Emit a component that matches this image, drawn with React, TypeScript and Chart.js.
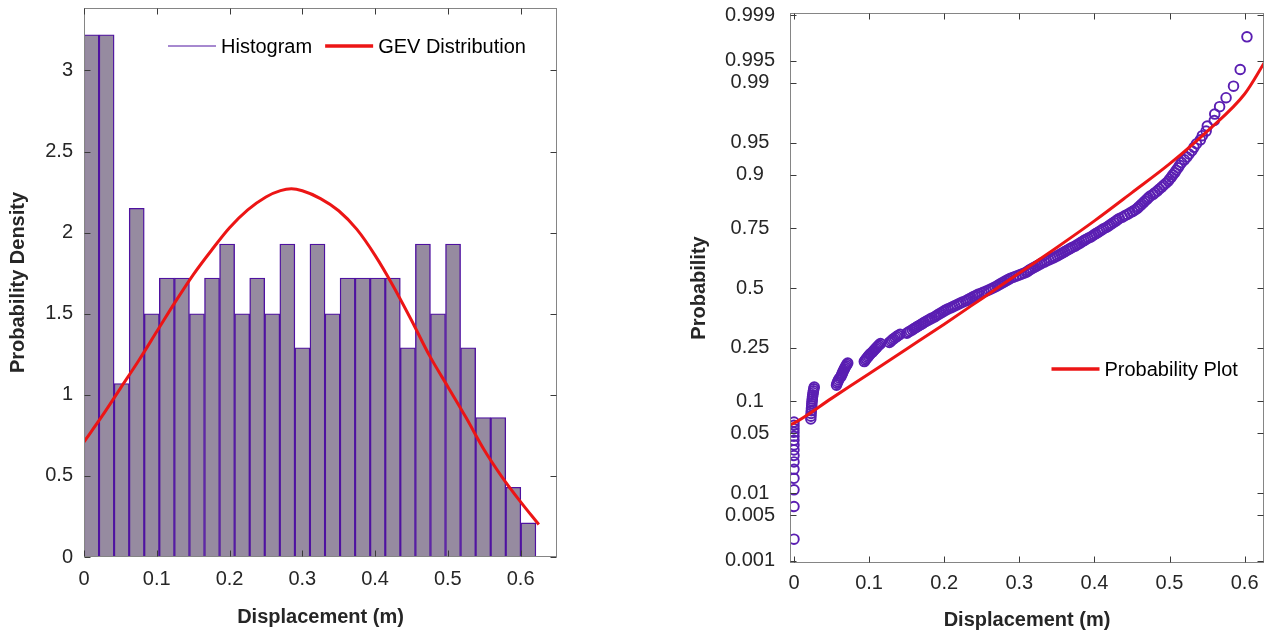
import React, { useEffect, useRef } from "react";
import { Chart, registerables } from "chart.js";

Chart.register(...registerables);

const FONT = '"Liberation Sans", Arial, Helvetica, sans-serif';
Chart.defaults.font.family = FONT;

// ---------- Left panel data (histogram + GEV pdf) ----------
const histBinStart = 0;
const histBinWidth = 0.0207;
const histDensity = [
  3.22, 3.22, 1.07, 2.15, 1.5, 1.72, 1.72, 1.5, 1.72, 1.93,
  1.5, 1.72, 1.5, 1.93, 1.29, 1.93, 1.5, 1.72, 1.72, 1.72,
  1.72, 1.29, 1.93, 1.5, 1.93, 1.29, 0.86, 0.86, 0.43, 0.21,
];
const gevX = [
  0, 0.025, 0.05, 0.075, 0.1, 0.125, 0.15, 0.175, 0.2, 0.225, 0.25, 0.27, 0.285, 0.3,
  0.325, 0.35, 0.375, 0.4, 0.425, 0.45, 0.475, 0.5, 0.525, 0.55, 0.575, 0.6, 0.625,
];
const gevPdf = [
  0.71, 0.87, 1.04, 1.21, 1.39, 1.57, 1.74, 1.89, 2.03, 2.14, 2.22, 2.259, 2.27, 2.258,
  2.21, 2.135, 2.02, 1.86, 1.67, 1.46, 1.24, 1.05, 0.86, 0.66, 0.49, 0.34, 0.2,
];
const leftXTicks = [0, 0.1, 0.2, 0.3, 0.4, 0.5, 0.6];
const leftYTicks = [0, 0.5, 1, 1.5, 2, 2.5, 3];

// ---------- Right panel data (probability plot) ----------
const displacementSorted = [
  0, 0, 0, 0, 0, 0, 0, 0, 0, 0, 0, 0, 0, 0, 0,
  0.0224, 0.0226, 0.0228, 0.0231, 0.0233, 0.0236, 0.0238, 0.0241, 0.0244, 0.0247, 0.0251, 0.0255, 0.0259, 0.0264, 0.027,
  0.0566, 0.0574, 0.0583, 0.0594, 0.0607,
  0.0625, 0.0634, 0.0643, 0.0652, 0.0662, 0.0671, 0.0682, 0.0693, 0.0704, 0.0716,
  0.0936, 0.0949, 0.0962, 0.0977, 0.0991, 0.1006, 0.1021,
  0.1043, 0.1057, 0.1072, 0.1088, 0.1103, 0.1119, 0.1134, 0.1152,
  0.1271, 0.129, 0.1306, 0.1326, 0.1347, 0.1367, 0.1388, 0.1413,
  0.1503, 0.1524, 0.155, 0.1575, 0.1597, 0.162, 0.1642,
  0.1668, 0.1692, 0.1714, 0.1737, 0.1761, 0.1787, 0.1812, 0.1838,
  0.1872, 0.189, 0.1911, 0.1934, 0.1957, 0.198, 0.2002, 0.2026, 0.2053,
  0.2086, 0.2113, 0.214, 0.2169, 0.2196, 0.2223, 0.2252,
  0.229, 0.2312, 0.2337, 0.2363, 0.2386, 0.2412, 0.2437, 0.2461,
  0.2502, 0.2531, 0.2562, 0.2593, 0.2621, 0.2649, 0.2676,
  0.2703, 0.2722, 0.2744, 0.2767, 0.2792, 0.2814, 0.2839, 0.2862, 0.2885,
  0.2922, 0.2957, 0.2993, 0.3026, 0.3062, 0.3094,
  0.3114, 0.3132, 0.3153, 0.3177, 0.3202, 0.3227, 0.325, 0.3276, 0.3299,
  0.3332, 0.3361, 0.3392, 0.3421, 0.3452, 0.3477, 0.3506,
  0.3533, 0.3557, 0.3582, 0.3606, 0.3632, 0.3657, 0.3681, 0.3709,
  0.3742, 0.3764, 0.379, 0.3813, 0.3837, 0.3862, 0.3886, 0.3915,
  0.3947, 0.3972, 0.3996, 0.402, 0.4047, 0.407, 0.4098, 0.4121,
  0.4157, 0.4183, 0.4206, 0.4232, 0.4255, 0.4283, 0.4305, 0.4332,
  0.4372, 0.4404, 0.4439, 0.4471, 0.4506, 0.4536,
  0.4567, 0.4587, 0.461, 0.463, 0.4653, 0.4673, 0.4698, 0.4717, 0.4743,
  0.4782, 0.4808, 0.4839, 0.4865, 0.4896, 0.4921, 0.4952,
  0.4982, 0.5001, 0.5025, 0.5045, 0.507, 0.509, 0.5114, 0.5135, 0.5159,
  0.5198, 0.5232, 0.5261, 0.5297, 0.5326, 0.5359,
  0.5411, 0.5437, 0.5488, 0.5503,
  0.5596, 0.5602, 0.5667, 0.5753,
  0.5852, 0.5941,
  0.6031,
];
const fitX = [-0.005, 0, 0.05, 0.1, 0.15, 0.2, 0.25, 0.3, 0.35, 0.4, 0.45, 0.5, 0.55, 0.6, 0.627];
const fitProb = [0.061, 0.063, 0.1056, 0.166, 0.245, 0.341, 0.452, 0.5675, 0.677, 0.7764, 0.86, 0.92, 0.962, 0.986, 0.9948];
const rightXTicks = [0, 0.1, 0.2, 0.3, 0.4, 0.5, 0.6];
const probTicks = [0.001, 0.005, 0.01, 0.05, 0.1, 0.25, 0.5, 0.75, 0.9, 0.95, 0.99, 0.995, 0.999];
const probTickLabels = ["0.001", "0.005", "0.01", "0.05", "0.1", "0.25", "0.5", "0.75", "0.9", "0.95", "0.99", "0.995", "0.999"];

// inverse standard normal CDF (normal probability paper)
function probit(p: number): number {
  const a = [-39.69683028665376, 220.9460984245205, -275.9285104469687, 138.357751867269, -30.66479806614716, 2.506628277459239];
  const b = [-54.47609879822406, 161.5858368580409, -155.6989798598866, 66.80131188771972, -13.28068155288572];
  const c = [-0.007784894002430293, -0.3223964580411365, -2.400758277161838, -2.549732539343734, 4.374664141464968, 2.938163982698783];
  const d = [0.007784695709041462, 0.3224671290700398, 2.445134137142996, 3.754408661907416];
  const pl = 0.02425;
  if (p < pl) {
    const q = Math.sqrt(-2 * Math.log(p));
    return (((((c[0] * q + c[1]) * q + c[2]) * q + c[3]) * q + c[4]) * q + c[5]) / ((((d[0] * q + d[1]) * q + d[2]) * q + d[3]) * q + 1);
  }
  if (p <= 1 - pl) {
    const q = p - 0.5;
    const r = q * q;
    return ((((((a[0] * r + a[1]) * r + a[2]) * r + a[3]) * r + a[4]) * r + a[5]) * q) / (((((b[0] * r + b[1]) * r + b[2]) * r + b[3]) * r + b[4]) * r + 1);
  }
  const q = Math.sqrt(-2 * Math.log(1 - p));
  return -(((((c[0] * q + c[1]) * q + c[2]) * q + c[3]) * q + c[4]) * q + c[5]) / ((((d[0] * q + d[1]) * q + d[2]) * q + d[3]) * q + 1);
}

const TEXT = "#262626";
const RED = "#ec1515";
const BAR_EDGE = "#4f12a0";
const BAR_FILL = "#968ba0";
const MARKER = "#5a1eb2";

const fmt = (v: number) => String(Math.round(v * 1000) / 1000);

const framePlugin = {
  id: "frame",
  afterDatasetsDraw(chart: any) {
    const { ctx, chartArea } = chart;
    const { left, right, top, bottom } = chartArea;
    const L = Math.round(left) + 0.5;
    const R = Math.round(right) - 0.5;
    const T = Math.round(top) + 0.5;
    const B = Math.round(bottom) - 0.5;
    ctx.save();
    ctx.lineWidth = 1;
    ctx.strokeStyle = "#858585";
    ctx.strokeRect(L, T, R - L, B - T);
    ctx.strokeStyle = "#3a3a3a";
    const tl = 6;
    const xs = chart.scales.x;
    const ys = chart.scales.y;
    ctx.beginPath();
    xs.ticks.forEach((t: any) => {
      const px = Math.round(xs.getPixelForValue(t.value)) + 0.5;
      ctx.moveTo(px, B);
      ctx.lineTo(px, B - tl);
      ctx.moveTo(px, T);
      ctx.lineTo(px, T + tl);
    });
    ys.ticks.forEach((t: any) => {
      const py = Math.round(ys.getPixelForValue(t.value)) + 0.5;
      ctx.moveTo(L, py);
      ctx.lineTo(L + tl, py);
      ctx.moveTo(R, py);
      ctx.lineTo(R - tl, py);
    });
    ctx.stroke();
    ctx.restore();
  },
};

function makeLegend(x0: number, y: number, items: number[]) {
  return {
    id: "customLegend",
    afterDraw(chart: any) {
      const { ctx } = chart;
      ctx.save();
      ctx.font = `20px ${FONT}`;
      ctx.textBaseline = "middle";
      ctx.fillStyle = "#000";
      let x = x0;
      items.forEach((idx) => {
        const ds = chart.data.datasets[idx];
        ctx.strokeStyle = ds.legendColor;
        ctx.lineWidth = ds.legendWidth;
        ctx.beginPath();
        ctx.moveTo(x, y);
        ctx.lineTo(x + 48, y);
        ctx.stroke();
        x += 53;
        ctx.fillText(ds.label, x, y + 1);
        x += ctx.measureText(ds.label).width + 13;
      });
      ctx.restore();
    },
  };
}

function leftConfig(): any {
  const bars = histDensity.map((v, i) => ({ x: histBinStart + (i + 0.5) * histBinWidth, y: v }));
  const pdf = gevX.map((x, i) => ({ x, y: gevPdf[i] }));
  return {
    type: "bar",
    data: {
      datasets: [
        {
          type: "bar",
          label: "Histogram",
          data: bars,
          backgroundColor: BAR_FILL,
          borderColor: BAR_EDGE,
          borderWidth: 1.4,
          borderSkipped: false,
          barPercentage: 1,
          categoryPercentage: 1,
          order: 2,
          legendColor: BAR_EDGE,
          legendWidth: 1,
        },
        {
          type: "line",
          label: "GEV Distribution",
          data: pdf,
          borderColor: RED,
          borderWidth: 3,
          pointRadius: 0,
          fill: false,
          cubicInterpolationMode: "monotone",
          order: 1,
          legendColor: RED,
          legendWidth: 3.5,
        },
      ],
    },
    options: {
      responsive: false,
      animation: false,
      devicePixelRatio: 1,
      layout: { padding: { top: 8, right: 79, left: 0, bottom: 0 } },
      plugins: { legend: { display: false }, tooltip: { enabled: false } },
      scales: {
        x: {
          type: "linear",
          min: 0,
          max: 0.65,
          offset: false,
          grid: { display: false, drawTicks: false },
          border: { display: false },
          afterBuildTicks: (s: any) => {
            s.ticks = leftXTicks.map((v) => ({ value: v }));
          },
          ticks: { autoSkip: false, maxRotation: 0, padding: 10, color: TEXT, font: { size: 20 }, callback: (v: number) => fmt(v) },
          title: { display: true, text: "Displacement (m)", color: TEXT, font: { size: 20, weight: "bold" }, padding: { top: 0, bottom: 6 } },
          afterFit: (s: any) => {
            s.height = 78;
            s.paddingLeft = 0;
            s.paddingRight = 0;
          },
        },
        y: {
          type: "linear",
          min: 0,
          max: 3.385,
          grid: { display: false, drawTicks: false },
          border: { display: false },
          afterBuildTicks: (s: any) => {
            s.ticks = leftYTicks.map((v) => ({ value: v }));
          },
          ticks: { autoSkip: false, padding: 11, color: TEXT, font: { size: 20 }, callback: (v: number) => fmt(v) },
          title: { display: true, text: "Probability Density", color: TEXT, font: { size: 20, weight: "bold" }, padding: { top: 6, bottom: 0 } },
          afterFit: (s: any) => {
            s.width = 84;
            s.paddingTop = 0;
            s.paddingBottom = 0;
          },
        },
      },
    },
    plugins: [framePlugin, makeLegend(168, 46, [0, 1])],
  };
}

function rightConfig(): any {
  const n = displacementSorted.length;
  const pts = displacementSorted.map((x, i) => ({ x, y: probit((i + 0.5) / n) }));
  const fit = fitX.map((x, i) => ({ x, y: probit(fitProb[i]) }));
  return {
    type: "scatter",
    data: {
      datasets: [
        {
          type: "scatter",
          label: "Data",
          data: pts,
          pointStyle: "circle",
          pointRadius: 4.8,
          pointBorderWidth: 1.9,
          pointBackgroundColor: "rgba(0,0,0,0)",
          pointBorderColor: MARKER,
          order: 2,
        },
        {
          type: "line",
          label: "Probability Plot",
          data: fit,
          borderColor: RED,
          borderWidth: 3,
          pointRadius: 0,
          fill: false,
          showLine: true,
          cubicInterpolationMode: "monotone",
          order: 1,
          legendColor: RED,
          legendWidth: 3.5,
        },
      ],
    },
    options: {
      responsive: false,
      animation: false,
      devicePixelRatio: 1,
      layout: { padding: { top: 13, right: 8, left: 40, bottom: 0 } },
      plugins: { legend: { display: false }, tooltip: { enabled: false } },
      scales: {
        x: {
          type: "linear",
          min: -0.0053,
          max: 0.6258,
          offset: false,
          grid: { display: false, drawTicks: false },
          border: { display: false },
          afterBuildTicks: (s: any) => {
            s.ticks = rightXTicks.map((v) => ({ value: v }));
          },
          ticks: { autoSkip: false, maxRotation: 0, padding: 8, color: TEXT, font: { size: 20 }, callback: (v: number) => fmt(v) },
          title: { display: true, text: "Displacement (m)", color: TEXT, font: { size: 20, weight: "bold" }, padding: { top: 0, bottom: 3 } },
          afterFit: (s: any) => {
            s.height = 72;
            s.paddingLeft = 0;
            s.paddingRight = 0;
          },
        },
        y: {
          type: "linear",
          min: -3.115,
          max: 3.115,
          grid: { display: false, drawTicks: false },
          border: { display: false },
          afterBuildTicks: (s: any) => {
            s.ticks = probTicks.map((p) => ({ value: probit(p) }));
          },
          ticks: {
            autoSkip: false,
            crossAlign: "center",
            padding: 15,
            color: TEXT,
            font: { size: 20 },
            callback: (_v: number, i: number) => probTickLabels[i],
          },
          title: { display: true, text: "Probability", color: TEXT, font: { size: 20, weight: "bold" }, padding: { top: 11, bottom: 0 } },
          afterFit: (s: any) => {
            s.width = 114;
            s.paddingTop = 0;
            s.paddingBottom = 0;
          },
        },
      },
    },
    plugins: [framePlugin, makeLegend(415.5, 369, [1])],
  };
}

function ChartCanvas({ make, left }: { make: () => any; left: number }) {
  const ref = useRef<HTMLCanvasElement | null>(null);
  useEffect(() => {
    if (!ref.current) return;
    const chart = new Chart(ref.current, make());
    return () => chart.destroy();
  }, [make]);
  return (
    <canvas
      ref={ref}
      width={636}
      height={635}
      style={{ position: "absolute", left, top: 0, width: 636, height: 635, display: "block" }}
    />
  );
}

export default function App() {
  return (
    <div style={{ position: "fixed", left: 0, top: 0, width: 1272, height: 635, background: "#fff", overflow: "hidden" }}>
      <ChartCanvas make={leftConfig} left={0} />
      <ChartCanvas make={rightConfig} left={636} />
    </div>
  );
}
